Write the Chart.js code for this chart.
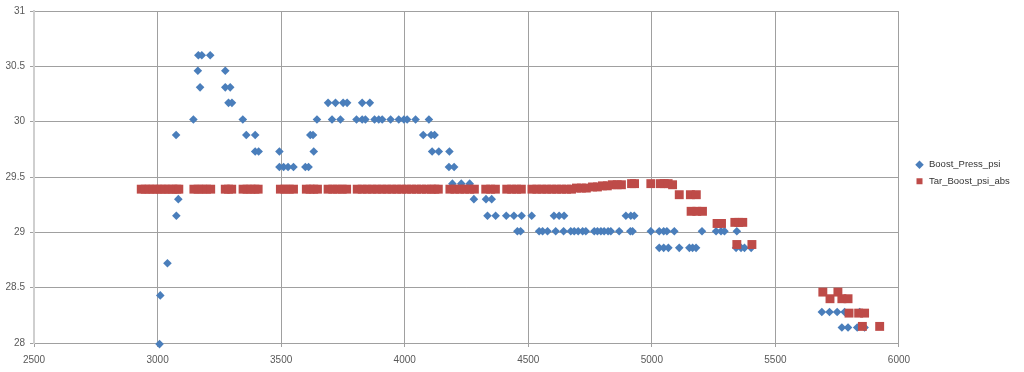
<!DOCTYPE html>
<html>
<head>
<meta charset="utf-8">
<script src="https://cdn.jsdelivr.net/npm/chart.js@4.4.0/dist/chart.umd.min.js"></script>
<style>
html, body { margin: 0; padding: 0; background: #fff; }
canvas { display: block; }
</style>
</head>
<body>
<canvas id="boostChart" width="1024" height="372"></canvas>
<script>
// Boost_Press_psi (rpm, psi)
const boostRpm = [
    3008, 3011, 3040, 3075, 3076, 3084, 3145, 3163, 3165, 3172, 3179, 3213,
    3274, 3274, 3287, 3294, 3301, 3345, 3359, 3395, 3395, 3409, 3493, 3493,
    3510, 3528, 3550, 3598, 3611, 3618, 3629, 3632, 3645, 3690, 3706, 3720,
    3740, 3751, 3767, 3805, 3828, 3828, 3841, 3859, 3878, 3895, 3909, 3943,
    3976, 3997, 4010, 4044, 4075, 4098, 4107, 4111, 4121, 4138, 4179, 4181,
    4193, 4200, 4229, 4263, 4280, 4329, 4335, 4352, 4368, 4411, 4442, 4456,
    4469, 4473, 4514, 4544, 4558, 4578, 4604, 4611, 4625, 4643, 4645, 4672,
    4686, 4702, 4720, 4733, 4767, 4780, 4794, 4807, 4823, 4834, 4868, 4895,
    4913, 4915, 4922, 4929, 4996, 5030, 5030, 5048, 5048, 5061, 5067, 5091,
    5111, 5152, 5165, 5179, 5203, 5260, 5280, 5294, 5341, 5344, 5361, 5375,
    5402, 5688, 5719, 5750, 5769, 5780, 5794, 5831, 5841, 5861
];
const boostPsi = [
    27.99, 28.43, 28.72, 29.88, 29.15, 29.30, 30.02, 30.46, 30.60, 30.31, 30.60, 30.60,
    30.46, 30.31, 30.17, 30.31, 30.17, 30.02, 29.88, 29.88, 29.73, 29.73, 29.73, 29.59,
    29.59, 29.59, 29.59, 29.59, 29.59, 29.88, 29.88, 29.73, 30.02, 30.17, 30.02, 30.17,
    30.02, 30.17, 30.17, 30.02, 30.17, 30.02, 30.02, 30.17, 30.02, 30.02, 30.02, 30.02,
    30.02, 30.02, 30.02, 30.02, 29.88, 30.02, 29.88, 29.73, 29.88, 29.73, 29.59, 29.73,
    29.44, 29.59, 29.44, 29.44, 29.30, 29.30, 29.15, 29.30, 29.15, 29.15, 29.15, 29.01,
    29.01, 29.15, 29.15, 29.01, 29.01, 29.01, 29.15, 29.01, 29.15, 29.01, 29.15, 29.01,
    29.01, 29.01, 29.01, 29.01, 29.01, 29.01, 29.01, 29.01, 29.01, 29.01, 29.01, 29.15,
    29.01, 29.15, 29.01, 29.15, 29.01, 29.01, 28.86, 29.01, 28.86, 29.01, 28.86, 29.01,
    28.86, 28.86, 28.86, 28.86, 29.01, 29.01, 29.01, 29.01, 28.86, 29.01, 28.86, 28.86,
    28.86, 28.28, 28.28, 28.28, 28.14, 28.28, 28.14, 28.14, 28.28, 28.14
];

// Tar_Boost_psi_abs (rpm, psi)
const tarRpm = [
    2934, 2950, 2966, 2982, 2998, 3014, 3030, 3046, 3062, 3078, 3086,
    3147, 3164, 3181, 3198, 3215,
    3274, 3287, 3300,
    3346, 3362, 3378, 3394, 3407,
    3497, 3515, 3533, 3550,
    3602, 3617, 3632, 3647,
    3690, 3709, 3728, 3747, 3765,
    3808, 3828, 3848, 3868, 3888, 3908, 3928, 3948, 3968, 3988, 4008, 4028, 4048, 4068, 4088, 4108, 4122, 4136,
    4183, 4203, 4223, 4243, 4263, 4282,
    4328, 4348, 4367,
    4413, 4433, 4453, 4472,
    4515, 4535, 4555, 4575, 4595, 4615, 4635, 4655, 4675,
    4695, 4715, 4735, 4760, 4780, 4800, 4820, 4840, 4860, 4877,
    4918, 4930, 4996, 5035, 5050, 5066, 5084,
    5111, 5156, 5180, 5159, 5182, 5205,
    5264, 5282, 5336, 5352, 5368, 5344, 5405,
    5692, 5721, 5753, 5769, 5794, 5798, 5837, 5852, 5861, 5922
];
const tarPsi = [
    29.39, 29.39, 29.39, 29.39, 29.39, 29.39, 29.39, 29.39, 29.39, 29.39, 29.39,
    29.39, 29.39, 29.39, 29.39, 29.39,
    29.39, 29.39, 29.39,
    29.39, 29.39, 29.39, 29.39, 29.39,
    29.39, 29.39, 29.39, 29.39,
    29.39, 29.39, 29.39, 29.39,
    29.39, 29.39, 29.39, 29.39, 29.39,
    29.39, 29.39, 29.39, 29.39, 29.39, 29.39, 29.39, 29.39, 29.39, 29.39, 29.39, 29.39, 29.39, 29.39, 29.39, 29.39, 29.39, 29.39,
    29.39, 29.39, 29.39, 29.39, 29.39, 29.39,
    29.39, 29.39, 29.39,
    29.39, 29.39, 29.39, 29.39,
    29.39, 29.39, 29.39, 29.39, 29.39, 29.39, 29.39, 29.39, 29.39,
    29.40, 29.40, 29.40, 29.41, 29.41, 29.42, 29.42, 29.43, 29.43, 29.43,
    29.44, 29.44, 29.44, 29.44, 29.44, 29.44, 29.43,
    29.34, 29.34, 29.34, 29.19, 29.19, 29.19,
    29.08, 29.08, 29.09, 29.09, 29.09, 28.89, 28.89,
    28.46, 28.40, 28.46, 28.40, 28.40, 28.27, 28.27, 28.15, 28.27, 28.15
];

const rpmRange = [2500, 6000];
const psiRange = [28, 31];

const axisFont = { family: "'Liberation Sans', Arial, sans-serif", size: 10 };
const gridColor = '#a0a0a0';

// move the legend a bit right of the plot and up, like the Excel original
const legendNudge = {
    id: 'legendNudge',
    afterLayout(chart) {
        const lg = chart.legend;
        const dx = 907.75 - lg.left;
        lg.left += dx;
        lg.right += dx;
        lg.top -= 18;
        lg.bottom -= 18;
    }
};

const ctx = document.getElementById('boostChart').getContext('2d');
const boostChart = new Chart(ctx, {
    type: 'scatter',
    data: {
        datasets: [
            {
                label: 'Boost_Press_psi',
                data: boostRpm.map((x, i) => ({ x: x, y: boostPsi[i] })),
                pointStyle: 'rectRot',
                pointRadius: 4.3,
                pointBorderWidth: 0,
                backgroundColor: '#4a7ebb',
                borderColor: '#4a7ebb',
                clip: false,
                order: 1
            },
            {
                label: 'Tar_Boost_psi_abs',
                data: tarRpm.map((x, i) => ({ x: x, y: tarPsi[i] })),
                pointStyle: 'rect',
                pointRadius: 6.3,
                pointBorderWidth: 0,
                backgroundColor: '#be4b48',
                borderColor: '#be4b48',
                clip: false,
                order: 0
            }
        ]
    },
    options: {
        responsive: false,
        animation: false,
        devicePixelRatio: 1,
        layout: { padding: { top: 10, right: 13, bottom: 0, left: 0 } },
        plugins: {
            legend: {
                position: 'right',
                labels: {
                    usePointStyle: true,
                    boxWidth: 9.5,
                    boxHeight: 6,
                    padding: 7,
                    color: '#333333',
                    font: { family: "'Liberation Sans', Arial, sans-serif", size: 9.5 },
                    sort: (a, b) => a.datasetIndex - b.datasetIndex
                }
            },
            tooltip: { enabled: false }
        },
        scales: {
            x: {
                type: 'linear',
                min: rpmRange[0],
                max: rpmRange[1],
                ticks: {
                    stepSize: 500,
                    callback: v => String(v),
                    color: '#595959',
                    font: axisFont,
                    padding: 7,
                    maxRotation: 0
                },
                grid: { color: gridColor, tickLength: 4 },
                border: { color: gridColor },
                afterFit: s => { s.height = 29; }
            },
            y: {
                min: psiRange[0],
                max: psiRange[1],
                ticks: {
                    stepSize: 0.5,
                    callback: v => String(v),
                    color: '#595959',
                    font: axisFont,
                    padding: 5
                },
                grid: { color: gridColor, tickLength: 4 },
                border: { color: '#cfcfcf', width: 2 },
                afterFit: s => { s.width = 34; }
            }
        }
    },
    plugins: [legendNudge]
});
</script>
</body>
</html>
